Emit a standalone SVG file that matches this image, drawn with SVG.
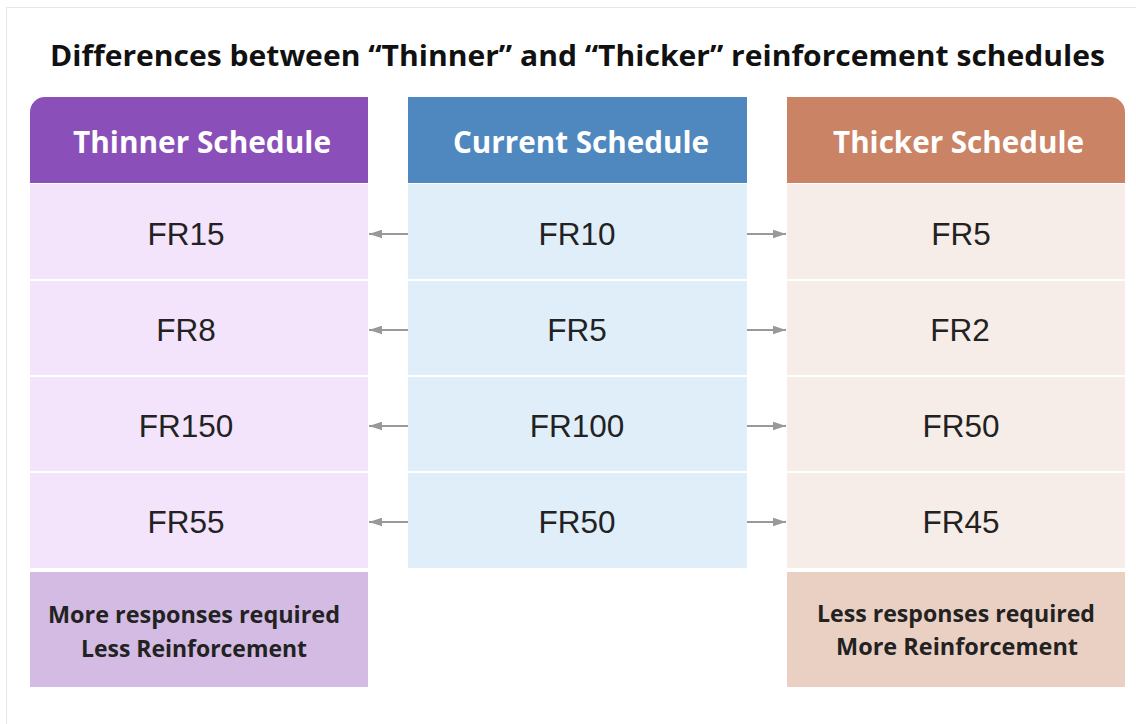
<svg xmlns="http://www.w3.org/2000/svg" width="1136" height="724" viewBox="0 0 1136 724">
<defs>
<style>
.title{font-family:"Open Sans",Lato,sans-serif;font-weight:bold;font-size:28px;fill:#111;text-anchor:middle}
.hdr{font-family:"Open Sans",Lato,sans-serif;font-weight:bold;font-size:31px;fill:#fff;text-anchor:middle}
.cell{font-family:"Liberation Sans",Arial,sans-serif;font-size:31.5px;fill:#222;text-anchor:middle}
.note{font-family:"Open Sans",Lato,sans-serif;font-weight:bold;font-size:23px;fill:#222;text-anchor:middle}
.conn{stroke:#999;stroke-width:2;fill:none;marker-end:url(#ah)}
</style>
<marker id="ah" viewBox="0 0 12 8" refX="12" refY="4" markerWidth="6.5" markerHeight="4.5" orient="auto" markerUnits="strokeWidth">
<path d="M0,0 L12,4 L0,8 z" fill="#999"/>
</marker>
</defs>
<rect x="0" y="0" width="1136" height="724" fill="#fff"/>
<rect x="6.5" y="7.5" width="1140" height="740" fill="none" stroke="#e6e6e6" stroke-width="1"/>
<text class="title" x="577.5" y="66" textLength="1055" lengthAdjust="spacingAndGlyphs">Differences between “Thinner” and “Thicker” reinforcement schedules</text>

<g id="thinner-header">
<path d="M45,97 H368 V183 H30 V112 A15,15 0 0 1 45,97 Z" fill="#8A4FB8"/>
<text class="hdr" x="202" y="153" textLength="258" lengthAdjust="spacingAndGlyphs">Thinner Schedule</text>
</g>
<g id="current-header">
<rect x="408" y="97" width="339" height="86" fill="#4F88BE"/>
<text class="hdr" x="581" y="153" textLength="256" lengthAdjust="spacingAndGlyphs">Current Schedule</text>
</g>
<g id="thicker-header">
<path d="M787,97 H1110 A15,15 0 0 1 1125,112 V183 H787 Z" fill="#CB8366"/>
<text class="hdr" x="958.5" y="153" textLength="251" lengthAdjust="spacingAndGlyphs">Thicker Schedule</text>
</g>

<g id="thinner-1"><rect x="30" y="184" width="338" height="95" fill="#F3E3FB"/><text class="cell" x="186" y="245">FR15</text></g>
<g id="thinner-2"><rect x="30" y="281" width="338" height="94" fill="#F3E3FB"/><text class="cell" x="186" y="341">FR8</text></g>
<g id="thinner-3"><rect x="30" y="377" width="338" height="94" fill="#F3E3FB"/><text class="cell" x="186" y="437">FR150</text></g>
<g id="thinner-4"><rect x="30" y="473" width="338" height="95" fill="#F3E3FB"/><text class="cell" x="186" y="533">FR55</text></g>
<g id="thinner-note"><rect x="30" y="572" width="338" height="115" fill="#D4BBE3"/>
<text class="note" x="194" y="623" textLength="292" lengthAdjust="spacingAndGlyphs">More responses required</text><text class="note" x="194" y="657" textLength="226" lengthAdjust="spacingAndGlyphs">Less Reinforcement</text></g>

<g id="current-1"><rect x="408" y="184" width="339" height="95" fill="#E0EEF9"/><text class="cell" x="577" y="245">FR10</text></g>
<g id="current-2"><rect x="408" y="281" width="339" height="94" fill="#E0EEF9"/><text class="cell" x="577" y="341">FR5</text></g>
<g id="current-3"><rect x="408" y="377" width="339" height="94" fill="#E0EEF9"/><text class="cell" x="577" y="437">FR100</text></g>
<g id="current-4"><rect x="408" y="473" width="339" height="95" fill="#E0EEF9"/><text class="cell" x="577" y="533">FR50</text></g>

<g id="thicker-1"><rect x="787" y="184" width="338" height="95" fill="#F7EDE8"/><text class="cell" x="961" y="245">FR5</text></g>
<g id="thicker-2"><rect x="787" y="281" width="338" height="94" fill="#F7EDE8"/><text class="cell" x="960" y="341">FR2</text></g>
<g id="thicker-3"><rect x="787" y="377" width="338" height="94" fill="#F7EDE8"/><text class="cell" x="961" y="437">FR50</text></g>
<g id="thicker-4"><rect x="787" y="473" width="338" height="95" fill="#F7EDE8"/><text class="cell" x="961" y="533">FR45</text></g>
<g id="thicker-note"><rect x="787" y="572" width="338" height="115" fill="#EACFC3"/>
<text class="note" x="956" y="622" textLength="278" lengthAdjust="spacingAndGlyphs">Less responses required</text><text class="note" x="957" y="655" textLength="242" lengthAdjust="spacingAndGlyphs">More Reinforcement</text></g>

<g id="connectors">
<line class="conn" x1="408" y1="234" x2="369" y2="234"/>
<line class="conn" x1="408" y1="330" x2="369" y2="330"/>
<line class="conn" x1="408" y1="426" x2="369" y2="426"/>
<line class="conn" x1="408" y1="522" x2="369" y2="522"/>
<line class="conn" x1="747" y1="234" x2="786" y2="234"/>
<line class="conn" x1="747" y1="330" x2="786" y2="330"/>
<line class="conn" x1="747" y1="426" x2="786" y2="426"/>
<line class="conn" x1="747" y1="522" x2="786" y2="522"/>
</g>
</svg>
